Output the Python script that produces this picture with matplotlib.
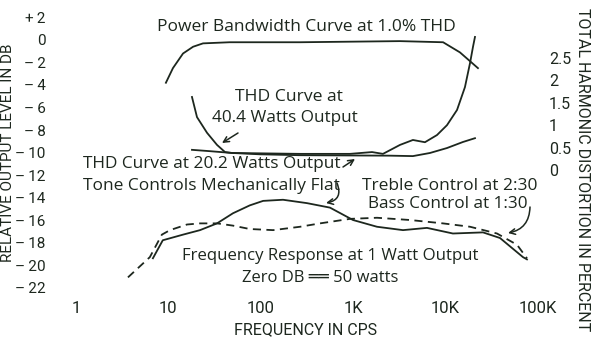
import matplotlib
matplotlib.use('Agg')
import matplotlib.pyplot as plt

# power bandwidth at 1.0% THD (relative output, dB)
pb_freq = [9.4, 11.2, 14.4, 18.5, 23.7, 46, 266, 3200, 9400, 14300, 22400]
pb_db = [-3.8, -2.5, -1.2, -0.6, -0.3, -0.2, -0.2, -0.1, -0.2, -1.1, -2.5]

# THD curves (percent)
thd40_freq = [18, 20.4, 26.2, 33.6, 41, 48.8, 266, 923, 1600, 2100, 3210,
              4430, 5980, 8070, 10350, 13300, 16200, 18400, 19800, 20800]
thd40_pct = [1.63, 1.18, 0.83, 0.56, 0.40, 0.38, 0.36, 0.36, 0.40, 0.36, 0.56,
             0.67, 0.62, 0.78, 1.0, 1.34, 1.85, 2.39, 2.75, 2.97]
thd20_freq = [18, 28.2, 48.8, 98, 266, 2500, 4430, 6780, 10350, 15400, 20800]
thd20_pct = [0.45, 0.42, 0.38, 0.35, 0.33, 0.32, 0.31, 0.38, 0.49, 0.625, 0.71]

# frequency response at 1 watt (dB)
flat_freq = [6.8, 8.7, 14.4, 22, 33.6, 50, 76, 106, 174, 316, 561, 995, 1810,
             3460, 6290, 12000, 25400, 38800, 68800, 76000]
flat_db = [-19.4, -17.8, -17.3, -16.9, -16.3, -15.4, -14.7, -14.3, -14.2, -14.5,
           -14.9, -16.0, -16.6, -16.9, -16.7, -17.2, -17.1, -17.6, -19.3, -19.5]
tone_freq = [3.65, 6.3, 8.5, 10.4, 15.9, 22, 33.6, 50, 76, 136, 266, 437, 923,
             1810, 4120, 9370, 18400, 36000, 59300, 76000]
tone_db = [-21.1, -19.3, -17.3, -16.9, -16.4, -16.3, -16.3, -16.5, -16.8, -16.9,
           -16.6, -16.3, -15.9, -15.8, -16.0, -16.3, -16.6, -17.2, -18.2, -19.4]

x_ticks = [1, 10, 100, 1e3, 1e4, 1e5]
x_labels = ['1', '10', '100', '1K', '10K', '100K']
db_ticks = list(range(-22, 3, 2))
db_labels = ['+\u20092' if v > 0 else ('0' if v == 0 else '\u2013\u2009%d' % -v)
             for v in db_ticks]
thd_ticks = [0, 0.5, 1, 1.5, 2, 2.5]
thd_labels = ['0', '0.5', '1', '1.5', '2', '2.5']

W, H = 595, 342
ink = '#1d271e'
narrow = ['Roboto', 'DejaVu Sans']
body = ['Open Sans', 'DejaVu Sans']

fig = plt.figure(figsize=(W / 100, H / 100), dpi=100)
ax = fig.add_axes([50 / W, 1 - 300 / H, 495 / W, 292 / H])
ax.set_xscale('log')
ax.set_xlim(0.5233, 119100)
ax.set_ylim(-23.11, 2.844)
ax2 = ax.twinx()
ax2.set_ylim(-2.902, 3.616)

for a in (ax, ax2):
    for s in a.spines.values():
        s.set_visible(False)
    a.patch.set_visible(False)

ax.set_xticks(x_ticks)
ax.set_xticklabels(x_labels)
ax.xaxis.set_minor_locator(matplotlib.ticker.NullLocator())
ax.set_yticks(db_ticks)
ax.set_yticklabels(db_labels)
ax2.set_yticks(thd_ticks)
ax2.set_yticklabels(thd_labels)
ax.tick_params(axis='x', length=0, pad=1, labelsize=12, labelcolor=ink)
ax.tick_params(axis='y', length=0, pad=3, labelsize=11, labelcolor=ink)
ax2.tick_params(axis='y', length=0, pad=3, labelsize=11.5, labelcolor=ink)
for lab in ax.get_xticklabels() + ax.get_yticklabels() + ax2.get_yticklabels():
    lab.set_family(narrow)
    lab.set_stretch('condensed')

lw = 1.3
ax.plot(pb_freq, pb_db, color=ink, lw=lw)
ax.plot(flat_freq, flat_db, color=ink, lw=lw)
ax.plot(tone_freq, tone_db, color=ink, lw=lw, dashes=(4.5, 3))
ax2.plot(thd40_freq, thd40_pct, color=ink, lw=lw)
ax2.plot(thd20_freq, thd20_pct, color=ink, lw=lw)


def fp(x, y):
    return (x, H - y)


def note(x, y, s, ha='left', size=12.3):
    fig.text(x / W, 1 - y / H, s, ha=ha, va='center', fontsize=size,
             color=ink, family=body)


# axis titles
title_kw = dict(ha='center', va='center', fontsize=11.5, color=ink,
                family=narrow, fontstretch='condensed')
fig.text(8 / W, 1 - 153 / H, 'RELATIVE OUTPUT LEVEL IN DB', rotation=90,
         **dict(title_kw, fontsize=11))
fig.text(582 / W, 1 - 170 / H, 'TOTAL HARMONIC DISTORTION IN PERCENT',
         rotation=-90, **title_kw)
fig.text(306 / W, 1 - 330 / H, 'FREQUENCY IN CPS', **title_kw)

note(306, 27, 'Power Bandwidth Curve at 1.0% THD', ha='center', size=12.5)
note(289, 97, 'THD Curve at', ha='center', size=12.6)
note(285, 118, '40.4 Watts Output', ha='center')
note(83, 164, 'THD Curve at 20.2 Watts Output', size=12.4)
note(83, 186, 'Tone Controls Mechanically Flat', size=12.5)
note(362, 186, 'Treble Control at 2:30', size=12.5)
note(368, 204, 'Bass Control at 1:30')
note(182, 256, 'Frequency Response at 1 Watt Output', size=12.1)
note(242, 278, 'Zero DB \u2550\u2550 50 watts', size=12.0)

arrow = dict(arrowstyle='->', color=ink, lw=1.1, shrinkA=0, shrinkB=0)
ax.annotate('', xy=fp(222, 143), xytext=fp(238, 133), xycoords='figure pixels',
            textcoords='figure pixels', arrowprops=arrow)
ax.annotate('', xy=fp(355, 159), xytext=fp(343, 167), xycoords='figure pixels',
            textcoords='figure pixels', arrowprops=arrow)
ax.annotate('', xy=fp(326, 203), xytext=fp(337, 183), xycoords='figure pixels',
            textcoords='figure pixels',
            arrowprops=dict(arrow, connectionstyle='arc3,rad=-0.6'))
ax.annotate('', xy=fp(508, 233), xytext=fp(530, 207), xycoords='figure pixels',
            textcoords='figure pixels',
            arrowprops=dict(arrow, connectionstyle='arc3,rad=-0.4'))

fig.savefig('out.png', dpi=100, facecolor='white')
